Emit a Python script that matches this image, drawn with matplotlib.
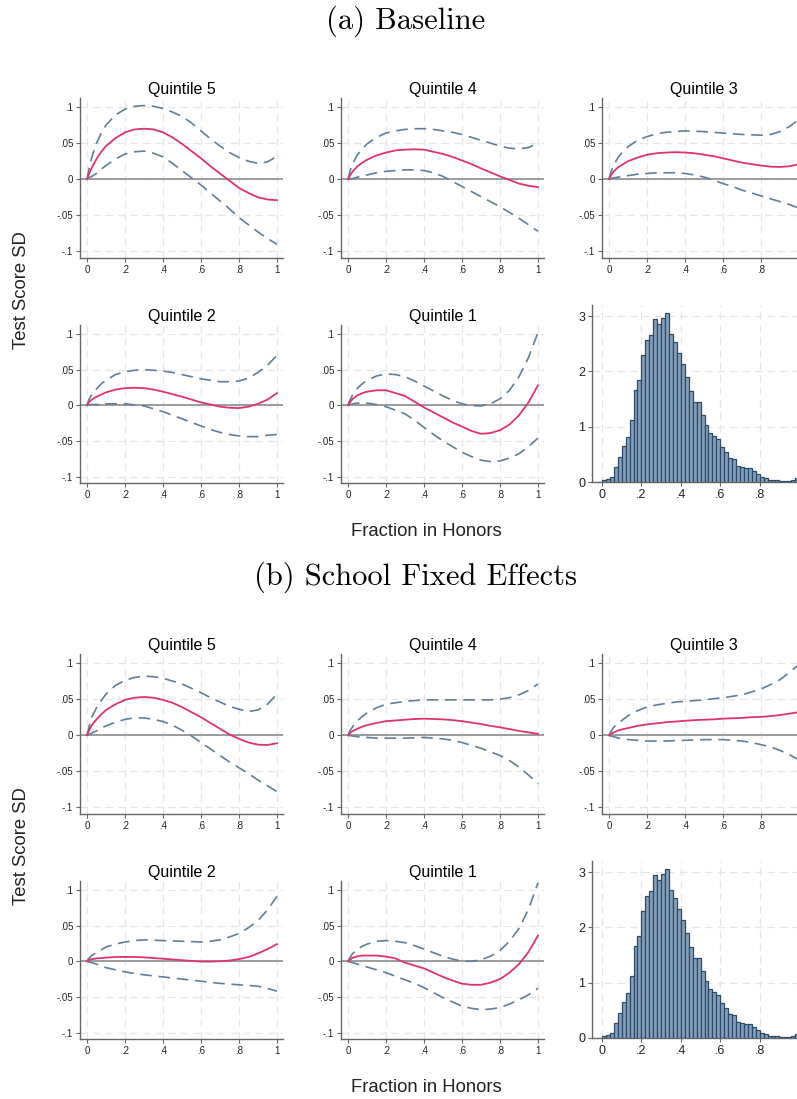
import matplotlib
matplotlib.use("Agg")
import matplotlib.pyplot as plt

# ---------------- data ----------------
XS = [0, 0.01, 0.025, 0.05, 0.075, 0.1, 0.15, 0.2, 0.25, 0.3, 0.35, 0.4,
      0.45, 0.5, 0.55, 0.6, 0.65, 0.7, 0.75, 0.8, 0.85, 0.9, 0.95, 1.0]

# (a) Baseline
a_q5_est = [0, .007, .016, .028, .038, .046, .057, .065, .069, .070, .069, .065,
            .058, .049, .039, .029, .018, .008, -.002, -.012, -.019, -.025, -.028, -.029]
a_q5_hi = [0, .014, .030, .050, .064, .075, .089, .097, .101, .102, .101, .098,
           .093, .087, .078, .067, .056, .046, .037, .030, .025, .022, .024, .032]
a_q5_lo = [0, .002, .004, .008, .014, .019, .028, .035, .038, .039, .036, .031,
           .022, .012, .002, -.008, -.019, -.030, -.041, -.053, -.063, -.073, -.082, -.090]

a_q4_est = [0, .005, .011, .018, .023, .027, .033, .037, .040, .041, .0415, .041,
            .038, .035, .031, .026, .021, .015, .0095, .004, -.001, -.006, -.009, -.011]
a_q4_hi = [0, .011, .022, .034, .042, .049, .058, .064, .067, .069, .070, .070,
           .069, .067, .065, .062, .058, .054, .050, .046, .043, .042, .044, .050]
a_q4_lo = [0, .0005, .001, .003, .0045, .006, .009, .011, .012, .013, .013, .012,
           .009, .004, -.003, -.010, -.017, -.024, -.031, -.038, -.046, -.054, -.063, -.072]

a_q3_est = [0, .005, .011, .017, .021, .025, .030, .034, .036, .037, .0375, .037,
            .036, .034, .032, .029, .026, .023, .021, .019, .0175, .017, .018, .021]
a_q3_hi = [0, .010, .020, .031, .039, .045, .054, .059, .063, .065, .066, .067,
           .0665, .066, .065, .064, .063, .062, .0615, .061, .062, .066, .073, .083]
a_q3_lo = [0, .001, .002, .003, .004, .005, .007, .008, .009, .009, .009, .008,
           .006, .003, -.001, -.006, -.010, -.015, -.019, -.023, -.027, -.031, -.035, -.040]

a_q2_est = [0, .004, .008, .012, .015, .018, .022, .024, .0245, .024, .022, .019,
            .0155, .012, .008, .004, .001, -.002, -.0035, -.004, -.002, .002, .008, .017]
a_q2_hi = [0, .008, .015, .023, .030, .035, .043, .047, .049, .050, .049, .048,
           .046, .043, .040, .037, .035, .033, .033, .034, .038, .046, .056, .070]
a_q2_lo = [0, .0005, .001, .001, .0015, .002, .002, .002, .0005, -.001, -.005, -.009,
           -.014, -.019, -.024, -.029, -.034, -.038, -.041, -.043, -.044, -.044, -.042, -.041]

a_q1_est = [0, .004, .009, .014, .017, .019, .021, .021, .017, .013, .005, -.003,
            -.010, -.017, -.024, -.030, -.036, -.040, -.039, -.035, -.027, -.014, .004, .028]
a_q1_hi = [0, .007, .015, .024, .030, .035, .041, .044, .043, .040, .034, .027,
           .020, .013, .007, .002, -.0005, -.001, .002, .009, .021, .040, .067, .102]
a_q1_lo = [0, .001, .002, .003, .003, .003, .001, -.002, -.007, -.012, -.021, -.031,
           -.041, -.050, -.058, -.066, -.072, -.077, -.079, -.078, -.074, -.068, -.058, -.046]

# (b) School Fixed Effects
b_q5_est = [0, .006, .014, .022, .029, .035, .043, .049, .052, .053, .052, .049,
            .045, .039, .032, .025, .017, .009, .001, -.005, -.010, -.013, -.0135, -.011]
b_q5_hi = [0, .011, .025, .038, .048, .057, .069, .076, .080, .082, .081, .079,
           .075, .071, .065, .059, .052, .046, .040, .036, .033, .035, .043, .057]
b_q5_lo = [0, .001, .003, .006, .010, .013, .018, .022, .024, .024, .022, .019,
           .014, .007, -.001, -.010, -.019, -.028, -.037, -.045, -.053, -.062, -.070, -.078]

b_q4_est = [0, .003, .006, .009, .012, .014, .017, .0195, .0205, .0215, .0225, .023,
            .0225, .022, .021, .0195, .0175, .0155, .013, .011, .0085, .006, .004, .002]
b_q4_hi = [0, .006, .012, .020, .026, .031, .038, .043, .045, .047, .048, .049,
           .049, .049, .049, .049, .049, .049, .049, .050, .052, .056, .062, .071]
b_q4_lo = [0, -.0005, -.001, -.002, -.0025, -.003, -.004, -.004, -.004, -.004, -.0035, -.003,
           -.004, -.005, -.007, -.010, -.014, -.018, -.023, -.028, -.035, -.044, -.055, -.067]

b_q3_est = [0, .002, .004, .007, .0085, .010, .013, .015, .0165, .018, .019, .020,
            .021, .0215, .022, .023, .0235, .024, .025, .0255, .0265, .028, .030, .032]
b_q3_hi = [0, .005, .011, .017, .022, .027, .034, .039, .042, .044, .046, .047,
           .048, .049, .0505, .052, .054, .056, .060, .064, .070, .077, .087, .098]
b_q3_lo = [0, -.001, -.002, -.004, -.005, -.006, -.007, -.008, -.008, -.008, -.0075, -.007,
           -.0065, -.006, -.006, -.006, -.007, -.008, -.010, -.013, -.016, -.021, -.027, -.034]

b_q2_est = [0, .0015, .003, .004, .0045, .005, .006, .006, .006, .0055, .0045, .0035,
            .0025, .0015, .0005, -.0005, -.0005, 0.0, .001, .003, .006, .011, .017, .024]
b_q2_hi = [0, .004, .008, .012, .016, .020, .024, .027, .029, .030, .0295, .029,
           .0285, .028, .0275, .027, .028, .030, .034, .039, .047, .057, .072, .091]
b_q2_lo = [0, -.001, -.002, -.004, -.0065, -.009, -.012, -.015, -.017, -.019, -.0205, -.022,
           -.0235, -.025, -.0265, -.028, -.0295, -.031, -.032, -.033, -.034, -.035, -.038, -.042]

b_q1_est = [0, .002, .005, .007, .008, .008, .008, .0065, .004, -.002, -.006, -.010,
            -.016, -.022, -.027, -.0315, -.033, -.033, -.030, -.025, -.016, -.004, .013, .036]
b_q1_hi = [0, .005, .011, .017, .021, .024, .028, .029, .028, .026, .022, .017,
           .012, .007, .003, .000, .000, .002, .007, .015, .028, .046, .073, .110]
b_q1_lo = [0, -.001, -.002, -.004, -.006, -.008, -.012, -.016, -.021, -.026, -.031, -.037,
           -.044, -.051, -.057, -.063, -.066, -.068, -.067, -.065, -.060, -.054, -.047, -.038]

# histogram of fraction in honors (density, bins of width 0.02 from 0 to 1)
hist_left = [round(0.02 * i, 2) for i in range(50)]
hist_density = [0.036, 0.05, 0.09, 0.27, 0.46, 0.65, 0.82, 1.12, 1.67, 1.84,
                2.29, 2.57, 2.66, 2.95, 2.85, 2.97, 3.05, 2.68, 2.53, 2.33,
                2.13, 1.90, 1.64, 1.45, 1.44, 1.22, 1.03, 0.89, 0.83, 0.77,
                0.64, 0.55, 0.44, 0.41, 0.29, 0.28, 0.26, 0.25, 0.19, 0.14,
                0.09, 0.07, 0.04, 0.03, 0.03, 0.02, 0.02, 0.02, 0.035, 0.08]

titles = ["Quintile 5", "Quintile 4", "Quintile 3", "Quintile 2", "Quintile 1"]
section_titles = ["(a) Baseline", "(b) School Fixed Effects"]
section_title_x = [406, 416]
x_ticks = [0, 0.2, 0.4, 0.6, 0.8, 1.0]
x_ticklabels = ["0", ".2", ".4", ".6", ".8", "1"]
x_ticks_edge = [0, 0.2, 0.4, 0.6, 0.8]          # right column: "1" falls off the page
x_ticklabels_edge = ["0", ".2", ".4", ".6", ".8"]
y_ticks = [-0.1, -0.05, 0, 0.05, 0.1]
y_ticklabels = ["-.1", "-.05", "0", ".05", ".1"]
h_yticks = [0, 1, 2, 3]
h_yticklabels = ["0", "1", "2", "3"]

sections = [
    [(a_q5_est, a_q5_hi, a_q5_lo), (a_q4_est, a_q4_hi, a_q4_lo), (a_q3_est, a_q3_hi, a_q3_lo),
     (a_q2_est, a_q2_hi, a_q2_lo), (a_q1_est, a_q1_hi, a_q1_lo)],
    [(b_q5_est, b_q5_hi, b_q5_lo), (b_q4_est, b_q4_hi, b_q4_lo), (b_q3_est, b_q3_hi, b_q3_lo),
     (b_q2_est, b_q2_hi, b_q2_lo), (b_q1_est, b_q1_hi, b_q1_lo)],
]

# ---------------- style ----------------
W, H = 797, 1099
plt.rcParams['font.family'] = ['Liberation Sans', 'DejaVu Sans']
RED = '#e0336a'
BLUE = '#5f7e9c'
SPINE = '#666666'
GRID = '#e6e6e6'
TXT = '#222222'

fig = plt.figure(figsize=(W / 100, H / 100), dpi=100)
fig.patch.set_facecolor('white')


def add_ax(l, t, r, b):
    return fig.add_axes([l / W, 1 - b / H, (r - l) / W, (b - t) / H])


def style(ax, tick_fs):
    for s in ['top', 'right']:
        ax.spines[s].set_visible(False)
    for s in ['left', 'bottom']:
        ax.spines[s].set_color(SPINE)
        ax.spines[s].set_linewidth(1.0)
    ax.tick_params(axis='both', direction='out', length=3, width=0.8, color=SPINE,
                   labelsize=tick_fs, labelcolor=TXT, pad=2)
    ax.grid(True, color=GRID, linestyle=(0, (6, 4)), linewidth=0.9)
    ax.set_axisbelow(True)


col_left = [80, 341, 602]
col_w = 203
rows = [(98, 258), (325, 483)]
offsets = [0, 556]

for si, off in enumerate(offsets):
    fig.text(section_title_x[si] / W, 1 - (21 + off) / H, section_titles[si], family='cmr10',
             fontsize=22, ha='center', va='center', color='black')
    fig.text(22 / W, 1 - (290 + off) / H, "Test Score SD", rotation=90, fontsize=13.3,
             ha='center', va='center', color=TXT)
    fig.text(426 / W, 1 - (532 + off) / H, "Fraction in Honors", fontsize=13.3,
             ha='center', va='center', color=TXT)
    for pi in range(5):
        r, c = divmod(pi, 3)
        t, b = rows[r]
        ax = add_ax(col_left[c], t + off, col_left[c] + col_w, b + off)
        style(ax, 7)
        est, hi, lo = sections[si][pi]
        ax.axhline(0, color='#8c8c8c', lw=1.2, zorder=2)
        ax.plot(XS, hi, color=BLUE, lw=1.2, linestyle=(0, (7, 4)), zorder=3)
        ax.plot(XS, lo, color=BLUE, lw=1.2, linestyle=(0, (7, 4)), zorder=3)
        ax.plot(XS, est, color=RED, lw=1.3, zorder=4)
        ax.set_xlim(-0.0368, 1.0316)
        ax.set_ylim(-0.109, 0.1125)
        if c == 2:
            ax.set_xticks(x_ticks_edge)
            ax.set_xticklabels(x_ticklabels_edge)
        else:
            ax.set_xticks(x_ticks)
            ax.set_xticklabels(x_ticklabels)
        ax.set_yticks(y_ticks)
        ax.set_yticklabels(y_ticklabels)
        ax.set_title(titles[pi], fontsize=11.5, pad=3, color='black')
    # histogram
    hax = add_ax(592, 305 + off, 809, 482 + off)
    style(hax, 9)
    hax.bar(hist_left, hist_density, width=0.02, align='edge', color='#86a0ba',
            edgecolor='#2b4a6a', linewidth=0.9, zorder=3)
    hax.set_xlim(-0.0506, 1.05)
    hax.set_ylim(0, 3.2)
    hax.set_xticks(x_ticks_edge)
    hax.set_xticklabels(x_ticklabels_edge)
    hax.set_yticks(h_yticks)
    hax.set_yticklabels(h_yticklabels)

fig.savefig('out.png', dpi=100)
